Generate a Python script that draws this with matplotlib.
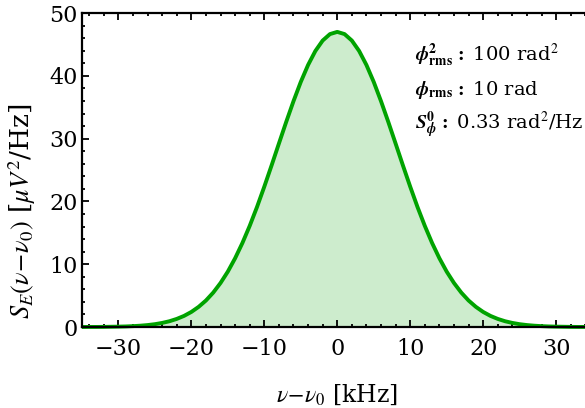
import matplotlib
matplotlib.use("Agg")
import matplotlib.pyplot as plt
from matplotlib.ticker import MultipleLocator

# spectrum (symmetric about 0), detuning in kHz
detuning_pos = [0, 1, 2, 3, 4, 5, 6, 7, 8, 9, 10, 11, 12, 13, 14, 15, 16, 17,
                18, 19, 20, 21, 22, 23, 24, 25, 26, 27, 28, 29, 30, 31, 32, 33, 34, 35]
psd_pos = [47.0, 46.65, 45.62, 43.96, 41.73, 39.03, 35.96, 32.65, 29.21, 25.74,
           22.35, 19.11, 16.11, 13.38, 10.95, 8.82, 7.01, 5.48, 4.22, 3.21, 2.40,
           1.77, 1.29, 0.92, 0.65, 0.45, 0.31, 0.21, 0.14, 0.09, 0.06, 0.04,
           0.02, 0.01, 0.01, 0.0]

detuning = [-v for v in detuning_pos[:0:-1]] + detuning_pos
psd = psd_pos[:0:-1] + psd_pos

xticks = [-30, -20, -10, 0, 10, 20, 30]
yticks = [0, 10, 20, 30, 40, 50]

plt.rcParams["font.family"] = "DejaVu Serif"
plt.rcParams["mathtext.fontset"] = "stix"

fig = plt.figure(figsize=(5.85, 4.08), dpi=100)
ax = fig.add_axes([0.140, 0.1985, 0.873, 0.7695])

line_col = "#00a300"
ax.fill_between(detuning, psd, 0, color="#cdeccd", lw=0)
ax.plot(detuning, psd, color=line_col, lw=2.8, solid_capstyle="butt", clip_on=False)

ax.set_xlim(-35, 35)
ax.set_ylim(0, 50)
ax.set_xticks(xticks)
ax.set_yticks(yticks)
ax.set_xticklabels([str(t).replace("-", "\u2212") for t in xticks])
ax.xaxis.set_minor_locator(MultipleLocator(2))
ax.yaxis.set_minor_locator(MultipleLocator(2))
ax.tick_params(which="both", direction="in", top=True, right=True, width=1.3,
               labelsize=16, colors="black")
ax.tick_params(which="major", length=5)
ax.tick_params(which="minor", length=2.5)
ax.tick_params(axis="x", pad=8)
ax.tick_params(axis="y", pad=3)
for s in ax.spines.values():
    s.set_linewidth(1.6)

ax.set_xlabel(r"$\nu\!-\!\nu_0$ [kHz]", fontsize=17)
ax.xaxis.set_label_coords(0.5, -0.175)
ax.set_ylabel(r"$S_E(\nu\!-\!\nu_0)$ [$\mu V^2$/Hz]", fontsize=19)
ax.yaxis.set_label_coords(-0.085, 0.37)

fs = 14
ax.text(0.652, 0.865, r"$\boldsymbol{\phi}_{\mathbf{rms}}^{\mathbf{2}}\,\mathbf{:}$ 100 rad$^2$",
        transform=ax.transAxes, fontsize=fs, va="center", ha="left")
ax.text(0.652, 0.755, r"$\boldsymbol{\phi}_{\mathbf{rms}}\,\mathbf{:}$ 10 rad",
        transform=ax.transAxes, fontsize=fs, va="center", ha="left")
ax.text(0.652, 0.645, r"$\boldsymbol{S}_{\boldsymbol{\phi}}^{\mathbf{0}}\,\mathbf{:}$ 0.33 rad$^2$/Hz",
        transform=ax.transAxes, fontsize=fs, va="center", ha="left")

fig.savefig("out.png", dpi=100)
